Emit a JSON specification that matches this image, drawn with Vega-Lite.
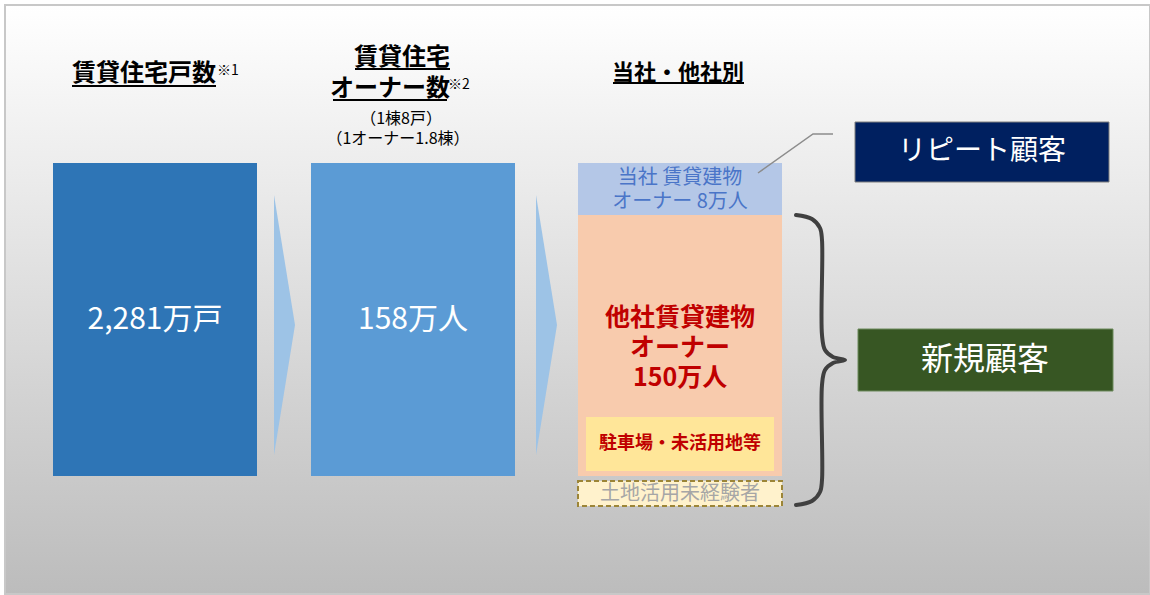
{
  "$schema": "https://vega.github.io/schema/vega-lite/v6.json",
  "width": 1150,
  "height": 595,
  "autosize": {"type": "fit", "contains": "padding"},
  "padding": 0,
  "background": "#ffffff",
  "config": {"view": {"stroke": null}, "text": {"font": "Noto Sans CJK JP"}},
  "resolve": {"scale": {"color": "independent"}},
  "encoding": {
    "x": {"field": "x", "type": "quantitative", "scale": {"domain": [0, 1150], "nice": false, "zero": false}, "axis": null},
    "y": {"field": "y", "type": "quantitative", "scale": {"domain": [0, 595], "nice": false, "zero": false, "reverse": true}, "axis": null}
  },
  "layer": [
    {
      "data": {"values": [{"x": 5, "x2": 1150, "y": 5, "y2": 594}]},
      "mark": {"type": "rect", "clip": true, "stroke": "#c8c8c8", "strokeWidth": 2,
        "color": {"gradient": "linear", "x1": 0, "y1": 0, "x2": 0, "y2": 1, "stops": [{"offset": 0, "color": "#ffffff"}, {"offset": 1, "color": "#bcbcbc"}]}},
      "encoding": {"x2": {"field": "x2"}, "y2": {"field": "y2"}}
    },
    {
      "data": {"values": [
        {"item": "bar1", "x": 53, "x2": 257, "y": 163, "y2": 476},
        {"item": "bar2", "x": 311, "x2": 515, "y": 163, "y2": 476},
        {"item": "top", "x": 578, "x2": 782, "y": 163, "y2": 215},
        {"item": "peach", "x": 578, "x2": 782, "y": 215, "y2": 476},
        {"item": "yellow", "x": 586, "x2": 774, "y": 417, "y2": 471}
      ]},
      "mark": {"type": "rect"},
      "encoding": {
        "x2": {"field": "x2"}, "y2": {"field": "y2"},
        "color": {"field": "item", "type": "nominal", "legend": null,
          "scale": {"domain": ["bar1", "bar2", "top", "peach", "yellow"], "range": ["#2e75b6", "#5b9bd5", "#b4c7e7", "#f8cbad", "#ffe699"]}}
      }
    },
    {
      "data": {"values": [{"x": 578, "x2": 782, "y": 481, "y2": 506}]},
      "mark": {"type": "rect", "fill": "#fff2cc", "stroke": "#9c8537", "strokeWidth": 2, "strokeDash": [5, 3]},
      "encoding": {"x2": {"field": "x2"}, "y2": {"field": "y2"}}
    },
    {
      "data": {"values": [
        {"id": "a1", "x": 274, "y": 195, "y2": 455},
        {"id": "a1", "x": 295, "y": 325, "y2": 325},
        {"id": "a2", "x": 536, "y": 195, "y2": 455},
        {"id": "a2", "x": 557, "y": 325, "y2": 325}
      ]},
      "mark": {"type": "area", "color": "#9dc3e6"},
      "encoding": {"y2": {"field": "y2"}, "detail": {"field": "id"}}
    },
    {
      "data": {"values": [
        {"x": 72, "x2": 216, "y": 86},
        {"x": 355, "x2": 450, "y": 69},
        {"x": 333, "x2": 447, "y": 100},
        {"x": 613, "x2": 744, "y": 83}
      ]},
      "mark": {"type": "rule", "color": "#000000", "strokeWidth": 2},
      "encoding": {"x2": {"field": "x2"}}
    },
    {
      "data": {"values": [
        {"x": 144, "y": 74, "t": "賃貸住宅戸数"},
        {"x": 402, "y": 58, "t": "賃貸住宅"},
        {"x": 390, "y": 89, "t": "オーナー数"}
      ]},
      "mark": {"type": "text", "fontSize": 24, "fontWeight": "bold", "color": "#000000", "align": "center", "baseline": "middle"},
      "encoding": {"text": {"field": "t"}}
    },
    {
      "data": {"values": [{"x": 678, "y": 73, "t": "当社・他社別"}]},
      "mark": {"type": "text", "fontSize": 22, "fontWeight": "bold", "color": "#000000", "align": "center", "baseline": "middle"},
      "encoding": {"text": {"field": "t"}}
    },
    {
      "data": {"values": [
        {"x": 217, "y": 71, "t": "※1"},
        {"x": 448, "y": 85, "t": "※2"}
      ]},
      "mark": {"type": "text", "fontSize": 14, "color": "#000000", "align": "left", "baseline": "middle"},
      "encoding": {"text": {"field": "t"}}
    },
    {
      "data": {"values": [
        {"x": 401, "y": 119, "t": "（1棟8戸）"},
        {"x": 398, "y": 139, "t": "（1オーナー1.8棟）"}
      ]},
      "mark": {"type": "text", "fontSize": 16, "color": "#000000", "align": "center", "baseline": "middle"},
      "encoding": {"text": {"field": "t"}}
    },
    {
      "data": {"values": [
        {"x": 155, "y": 320, "t": "2,281万戸"},
        {"x": 413, "y": 320, "t": "158万人"}
      ]},
      "mark": {"type": "text", "fontSize": 30, "color": "#ffffff", "align": "center", "baseline": "middle"},
      "encoding": {"text": {"field": "t"}}
    },
    {
      "data": {"values": [
        {"x": 680, "y": 178, "t": "当社 賃貸建物"},
        {"x": 680, "y": 202, "t": "オーナー 8万人"}
      ]},
      "mark": {"type": "text", "fontSize": 20, "color": "#4a75c8", "align": "center", "baseline": "middle"},
      "encoding": {"text": {"field": "t"}}
    },
    {
      "data": {"values": [
        {"x": 680, "y": 318, "t": "他社賃貸建物"},
        {"x": 680, "y": 348, "t": "オーナー"},
        {"x": 680, "y": 378, "t": "150万人"}
      ]},
      "mark": {"type": "text", "fontSize": 25, "fontWeight": "bold", "color": "#c00000", "align": "center", "baseline": "middle"},
      "encoding": {"text": {"field": "t"}}
    },
    {
      "data": {"values": [{"x": 680, "y": 444, "t": "駐車場・未活用地等"}]},
      "mark": {"type": "text", "fontSize": 18, "fontWeight": "bold", "color": "#c00000", "align": "center", "baseline": "middle"},
      "encoding": {"text": {"field": "t"}}
    },
    {
      "data": {"values": [{"x": 680, "y": 494, "t": "土地活用未経験者"}]},
      "mark": {"type": "text", "fontSize": 20, "color": "#a6a6a6", "align": "center", "baseline": "middle"},
      "encoding": {"text": {"field": "t"}}
    },
    {
      "data": {"values": [
        {"o": 1, "x": 796, "y": 215},
        {"o": 2, "x": 812, "y": 219},
        {"o": 3, "x": 820, "y": 228},
        {"o": 4, "x": 822, "y": 240},
        {"o": 5, "x": 822, "y": 335},
        {"o": 6, "x": 825, "y": 350},
        {"o": 7, "x": 833, "y": 357},
        {"o": 8, "x": 845, "y": 360},
        {"o": 9, "x": 833, "y": 363},
        {"o": 10, "x": 825, "y": 370},
        {"o": 11, "x": 822, "y": 385},
        {"o": 12, "x": 822, "y": 480},
        {"o": 13, "x": 820, "y": 492},
        {"o": 14, "x": 812, "y": 501},
        {"o": 15, "x": 796, "y": 505}
      ]},
      "mark": {"type": "line", "color": "#404040", "strokeWidth": 4, "interpolate": "catmull-rom", "strokeCap": "round"},
      "encoding": {"order": {"field": "o", "type": "quantitative"}}
    },
    {
      "data": {"values": [
        {"o": 1, "x": 758, "y": 173},
        {"o": 2, "x": 813, "y": 134},
        {"o": 3, "x": 833, "y": 134}
      ]},
      "mark": {"type": "line", "color": "#8c8c8c", "strokeWidth": 1.5},
      "encoding": {"order": {"field": "o", "type": "quantitative"}}
    },
    {
      "data": {"values": [{"x": 855, "x2": 1109, "y": 122, "y2": 182}]},
      "mark": {"type": "rect", "fill": "#002060", "stroke": "#7f7f7f", "strokeWidth": 1},
      "encoding": {"x2": {"field": "x2"}, "y2": {"field": "y2"}}
    },
    {
      "data": {"values": [{"x": 858, "x2": 1113, "y": 329, "y2": 391}]},
      "mark": {"type": "rect", "fill": "#375623", "stroke": "#6d8a5c", "strokeWidth": 1},
      "encoding": {"x2": {"field": "x2"}, "y2": {"field": "y2"}}
    },
    {
      "data": {"values": [{"x": 982, "y": 152, "t": "リピート顧客"}]},
      "mark": {"type": "text", "fontSize": 28, "color": "#ffffff", "align": "center", "baseline": "middle"},
      "encoding": {"text": {"field": "t"}}
    },
    {
      "data": {"values": [{"x": 985, "y": 360, "t": "新規顧客"}]},
      "mark": {"type": "text", "fontSize": 32, "color": "#ffffff", "align": "center", "baseline": "middle"},
      "encoding": {"text": {"field": "t"}}
    }
  ]
}
